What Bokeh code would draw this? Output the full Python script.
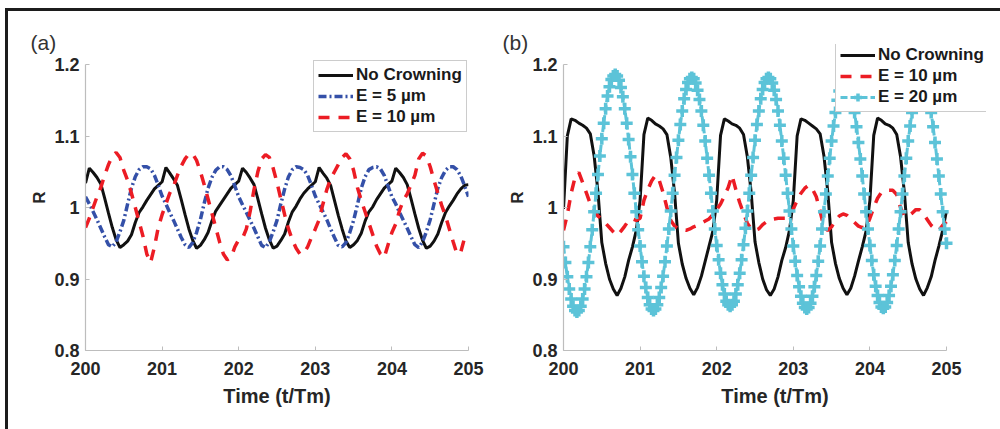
from bokeh.plotting import figure
from bokeh.layouts import row
from bokeh.models import Legend, LegendItem, FixedTicker, Range1d
from bokeh.embed import file_html
from bokeh.resources import INLINE

# ---------------- data ----------------
time = [round(200 + i * 0.05, 3) for i in range(101)]
time_fine = [round(200 + i * 0.025, 3) for i in range(201)]

x_ticks = [200, 201, 202, 203, 204, 205]
y_ticks = [0.8, 0.9, 1.0, 1.1, 1.2]
y_tick_labels = {0.8: "0.8", 0.9: "0.9", 1: "1", 1.1: "1.1", 1.2: "1.2"}

# panel (a)
a_no_crowning = [
    1.034, 1.055, 1.049, 1.042, 1.033, 1.013, 0.992, 0.972, 0.955, 0.944, 0.948, 0.953, 0.962, 0.979, 0.993, 1.001, 1.010, 1.018, 1.026, 1.031,
    1.036, 1.056, 1.048, 1.040, 1.031, 1.011, 0.990, 0.970, 0.954, 0.943, 0.947, 0.955, 0.965, 0.981, 0.995, 1.003, 1.011, 1.019, 1.027, 1.032,
    1.037, 1.055, 1.049, 1.041, 1.032, 1.012, 0.991, 0.971, 0.955, 0.943, 0.946, 0.954, 0.963, 0.980, 0.994, 1.002, 1.012, 1.020, 1.026, 1.031,
    1.036, 1.056, 1.048, 1.041, 1.031, 1.010, 0.989, 0.970, 0.953, 0.944, 0.948, 0.954, 0.964, 0.981, 0.994, 1.001, 1.011, 1.019, 1.027, 1.032,
    1.037, 1.055, 1.049, 1.042, 1.032, 1.012, 0.991, 0.971, 0.954, 0.943, 0.946, 0.953, 0.963, 0.979, 0.993, 1.002, 1.010, 1.019, 1.026, 1.031,
    1.032]
a_e5 = [
    1.015, 1.005, 0.994, 0.983, 0.971, 0.959, 0.948, 0.945, 0.952, 0.966, 0.982, 1.005, 1.027, 1.043, 1.053, 1.057, 1.057, 1.054, 1.045, 1.031,
    1.016, 1.005, 0.993, 0.982, 0.970, 0.958, 0.948, 0.944, 0.951, 0.965, 0.983, 1.006, 1.027, 1.042, 1.052, 1.057, 1.057, 1.053, 1.044, 1.030,
    1.015, 1.004, 0.993, 0.982, 0.971, 0.959, 0.947, 0.944, 0.952, 0.966, 0.982, 1.005, 1.026, 1.043, 1.053, 1.057, 1.056, 1.053, 1.045, 1.031,
    1.016, 1.005, 0.994, 0.983, 0.970, 0.958, 0.947, 0.945, 0.951, 0.965, 0.982, 1.004, 1.027, 1.043, 1.053, 1.056, 1.057, 1.054, 1.045, 1.030,
    1.015, 1.005, 0.993, 0.982, 0.971, 0.959, 0.948, 0.944, 0.952, 0.966, 0.983, 1.005, 1.027, 1.042, 1.052, 1.057, 1.057, 1.053, 1.044, 1.030,
    1.015]
a_e10 = [
    0.972, 0.985, 1.000, 1.015, 1.028, 1.045, 1.060, 1.072, 1.077, 1.070, 1.052, 1.038, 1.020, 1.000, 0.980, 0.960, 0.935, 0.923, 0.945, 0.972,
    0.990, 1.005, 1.020, 1.030, 1.045, 1.058, 1.068, 1.075, 1.075, 1.066, 1.050, 1.032, 1.012, 0.992, 0.972, 0.952, 0.935, 0.927, 0.930, 0.945,
    0.955, 0.957, 0.970, 0.995, 1.025, 1.050, 1.068, 1.074, 1.070, 1.055, 1.035, 1.012, 0.990, 0.970, 0.955, 0.943, 0.935, 0.936, 0.945, 0.958,
    0.970, 0.983, 1.005, 1.025, 1.040, 1.050, 1.060, 1.070, 1.075, 1.068, 1.052, 1.028, 1.010, 0.994, 0.978, 0.962, 0.946, 0.935, 0.930, 0.948,
    0.965, 0.977, 0.996, 1.010, 1.019, 1.032, 1.045, 1.068, 1.076, 1.072, 1.057, 1.038, 1.020, 1.003, 0.988, 0.970, 0.952, 0.935, 0.938, 0.958,
    0.962]

# panel (b)
b_no_crowning = [
    0.998, 1.100, 1.124, 1.122, 1.118, 1.115, 1.111, 1.103, 1.072, 1.022, 0.951, 0.922, 0.900, 0.886, 0.877, 0.887, 0.903, 0.926, 0.945, 0.968,
    1.010, 1.102, 1.125, 1.122, 1.117, 1.114, 1.110, 1.102, 1.070, 1.020, 0.950, 0.921, 0.901, 0.887, 0.878, 0.888, 0.904, 0.925, 0.946, 0.967,
    1.010, 1.101, 1.124, 1.121, 1.117, 1.115, 1.111, 1.102, 1.071, 1.021, 0.952, 0.923, 0.900, 0.885, 0.877, 0.886, 0.903, 0.926, 0.944, 0.968,
    1.010, 1.100, 1.124, 1.122, 1.118, 1.114, 1.110, 1.103, 1.072, 1.022, 0.951, 0.922, 0.901, 0.887, 0.878, 0.887, 0.904, 0.925, 0.945, 0.967,
    1.010, 1.101, 1.125, 1.122, 1.117, 1.115, 1.111, 1.102, 1.071, 1.021, 0.951, 0.921, 0.900, 0.886, 0.877, 0.888, 0.903, 0.926, 0.946, 0.968,
    0.996]
b_e10 = [
    0.968, 0.990, 1.020, 1.042, 1.049, 1.035, 1.020, 1.005, 0.995, 0.988, 0.984, 0.978, 0.972, 0.966, 0.961, 0.967, 0.974, 0.982, 0.984, 0.982,
    0.985, 1.010, 1.025, 1.037, 1.045, 1.038, 1.021, 1.000, 0.982, 0.974, 0.970, 0.969, 0.968, 0.970, 0.973, 0.975, 0.978, 0.981, 0.984, 0.990,
    0.997, 1.005, 1.016, 1.028, 1.045, 1.025, 1.007, 0.992, 0.978, 0.970, 0.968, 0.970, 0.976, 0.980, 0.983, 0.984, 0.985, 0.985, 0.985, 0.990,
    0.998, 1.010, 1.020, 1.027, 1.031, 1.026, 1.015, 0.995, 0.972, 0.968, 0.973, 0.982, 0.988, 0.991, 0.989, 0.984, 0.979, 0.974, 0.972, 0.972,
    0.985, 1.000, 1.013, 1.021, 1.023, 1.024, 1.024, 1.018, 1.000, 0.988, 0.988, 0.992, 0.997, 0.997, 0.991, 0.983, 0.975, 0.970, 0.968, 0.975,
    0.980]
b_e20 = [
    0.945, 0.923, 0.903, 0.886, 0.872, 0.862, 0.856, 0.854, 0.856, 0.862, 0.872, 0.886, 0.903, 0.923, 0.945, 0.969, 0.994, 1.020, 1.046, 1.072,
    1.096, 1.118, 1.138, 1.156, 1.169, 1.179, 1.184, 1.186, 1.184, 1.178, 1.168, 1.155, 1.138, 1.118, 1.095, 1.071, 1.046, 1.020, 0.994, 0.969,
    0.946, 0.924, 0.904, 0.888, 0.874, 0.864, 0.858, 0.856, 0.858, 0.864, 0.874, 0.888, 0.904, 0.924, 0.946, 0.970, 0.995, 1.020, 1.045, 1.070,
    1.094, 1.116, 1.135, 1.152, 1.165, 1.175, 1.180, 1.182, 1.180, 1.174, 1.164, 1.151, 1.135, 1.115, 1.093, 1.069, 1.045, 1.020, 0.995, 0.970,
    0.947, 0.927, 0.908, 0.892, 0.879, 0.869, 0.864, 0.862, 0.864, 0.869, 0.879, 0.892, 0.908, 0.927, 0.948, 0.971, 0.995, 1.020, 1.045, 1.070,
    1.094, 1.116, 1.135, 1.152, 1.165, 1.175, 1.180, 1.182, 1.180, 1.174, 1.164, 1.151, 1.135, 1.115, 1.093, 1.069, 1.045, 1.020, 0.995, 0.970,
    0.946, 0.925, 0.905, 0.889, 0.876, 0.866, 0.860, 0.858, 0.860, 0.866, 0.876, 0.889, 0.905, 0.925, 0.946, 0.970, 0.994, 1.019, 1.044, 1.069,
    1.093, 1.114, 1.133, 1.150, 1.163, 1.173, 1.178, 1.180, 1.178, 1.172, 1.162, 1.149, 1.133, 1.113, 1.091, 1.068, 1.044, 1.019, 0.994, 0.970,
    0.947, 0.926, 0.906, 0.890, 0.877, 0.867, 0.861, 0.859, 0.861, 0.867, 0.877, 0.890, 0.906, 0.926, 0.947, 0.970, 0.994, 1.019, 1.044, 1.069,
    1.093, 1.114, 1.133, 1.150, 1.163, 1.173, 1.178, 1.180, 1.178, 1.172, 1.162, 1.149, 1.133, 1.113, 1.091, 1.068, 1.044, 1.019, 0.994, 0.970,
    0.950]

label_no = "No Crowning"
label_e5 = "E = 5 \u00b5m"
label_e10 = "E = 10 \u00b5m"
label_e20 = "E = 20 \u00b5m"

# ---------------- styling ----------------
BLACK = "#111111"
BLUE = "#3450a8"
RED = "#ec1c24"
CYAN = "#5cc3d8"
AXIS_GRAY = "#bdbdbd"
FONT = "Liberation Sans"


def make_fig(width, min_left, min_right, x_end, title, title_offset):
    # frame top sits 20 px above the "1.2" tick so that a legend may reach up there;
    # the visible axis lines are bounded to the real data window.
    p = figure(width=width, height=418, x_range=Range1d(200, x_end), y_range=Range1d(0.8, 1.228),
               output_backend="svg", toolbar_location=None,
               min_border_left=min_left, min_border_right=min_right,
               min_border_top=33, min_border_bottom=79)
    p.outline_line_color = None
    p.background_fill_color = "white"
    p.border_fill_color = "white"
    p.grid.visible = False
    p.title.text = title
    p.title.align = "left"
    p.title.offset = title_offset
    p.title.text_font = FONT
    p.title.text_font_style = "normal"
    p.title.text_font_size = "21px"
    p.title.text_color = "#333333"
    p.title.standoff = -19

    for ax in (p.xaxis[0], p.yaxis[0]):
        ax.axis_line_color = AXIS_GRAY
        ax.axis_line_width = 1.2
        ax.major_tick_line_color = AXIS_GRAY
        ax.major_tick_in = 4
        ax.major_tick_out = 0
        ax.minor_tick_line_color = None
        ax.major_label_text_font = FONT
        ax.major_label_text_font_style = "bold"
        ax.major_label_text_color = "#262626"
        ax.axis_label_text_font = FONT
        ax.axis_label_text_font_style = "bold"
        ax.axis_label_text_color = "#262626"
    p.xaxis.ticker = FixedTicker(ticks=x_ticks)
    p.yaxis.ticker = FixedTicker(ticks=y_ticks)
    p.xaxis.bounds = (200, 205)
    p.yaxis.bounds = (0.8, 1.2)
    p.yaxis.major_label_overrides = y_tick_labels
    p.xaxis.major_label_text_font_size = "18px"
    p.yaxis.major_label_text_font_size = "18px"
    p.xaxis.major_label_standoff = 11
    p.yaxis.major_label_standoff = 6
    p.xaxis.axis_label = "Time (t/Tm)"
    p.yaxis.axis_label = "R"
    p.xaxis.axis_label_text_font_size = "20px"
    p.yaxis.axis_label_text_font_size = "17px"
    p.xaxis.axis_label_standoff = 7
    p.yaxis.axis_label_standoff = 2
    return p


def style_legend(lg):
    lg.border_line_color = "#9a9a9a"
    lg.border_line_width = 1
    lg.background_fill_color = "white"
    lg.background_fill_alpha = 1.0
    lg.label_text_font = FONT
    lg.label_text_font_style = "bold"
    lg.label_text_font_size = "17px"
    lg.label_text_color = "#1a1a1a"
    lg.glyph_width = 35
    lg.glyph_height = 20
    lg.label_height = 20
    lg.spacing = 1
    lg.padding = 4
    lg.margin = 0
    lg.label_standoff = 3


# ---------------- panel (a) ----------------
pa = make_fig(492, 77, 32, 205, "(a)", -55)
ra1 = pa.line(time, a_no_crowning, line_color=BLACK, line_width=3)
ra2 = pa.line(time, a_e5, line_color=BLUE, line_width=3.5, line_dash="8 3 2 3")
ra3 = pa.line(time, a_e10, line_color=RED, line_width=3.5, line_dash="11 9")
lga = Legend(items=[LegendItem(label=label_no, renderers=[ra1]),
                    LegendItem(label=label_e5, renderers=[ra2]),
                    LegendItem(label=label_e10, renderers=[ra3])],
             location=(228, 218))
style_legend(lga)
pa.add_layout(lga)

# ---------------- panel (b) ----------------
pb = make_fig(500, 63, 14, 205.522, "(b)", -61)
rb1 = pb.line(time, b_no_crowning, line_color=BLACK, line_width=3)
rb2 = pb.line(time, b_e10, line_color=RED, line_width=3.5, line_dash="11 9")
rb3 = pb.line(time_fine, b_e20, line_color=CYAN, line_width=3, line_dash="7 3")
rb4 = pb.scatter(time_fine, b_e20, marker="cross", size=12, line_color=CYAN, line_width=3.5)
lgb = Legend(items=[LegendItem(label=label_no, renderers=[rb1]),
                    LegendItem(label=label_e10, renderers=[rb2]),
                    LegendItem(label=label_e20, renderers=[rb3, rb4])],
             location=(272, 238))
style_legend(lgb)
pb.add_layout(lgb)

layout = row(pa, pb, styles={"margin-left": "5px", "margin-top": "8px",
                             "border-left": "3px solid #1c1c1c",
                             "border-top": "3px solid #1c1c1c"})

open("out.html", "w").write(file_html(layout, INLINE))
